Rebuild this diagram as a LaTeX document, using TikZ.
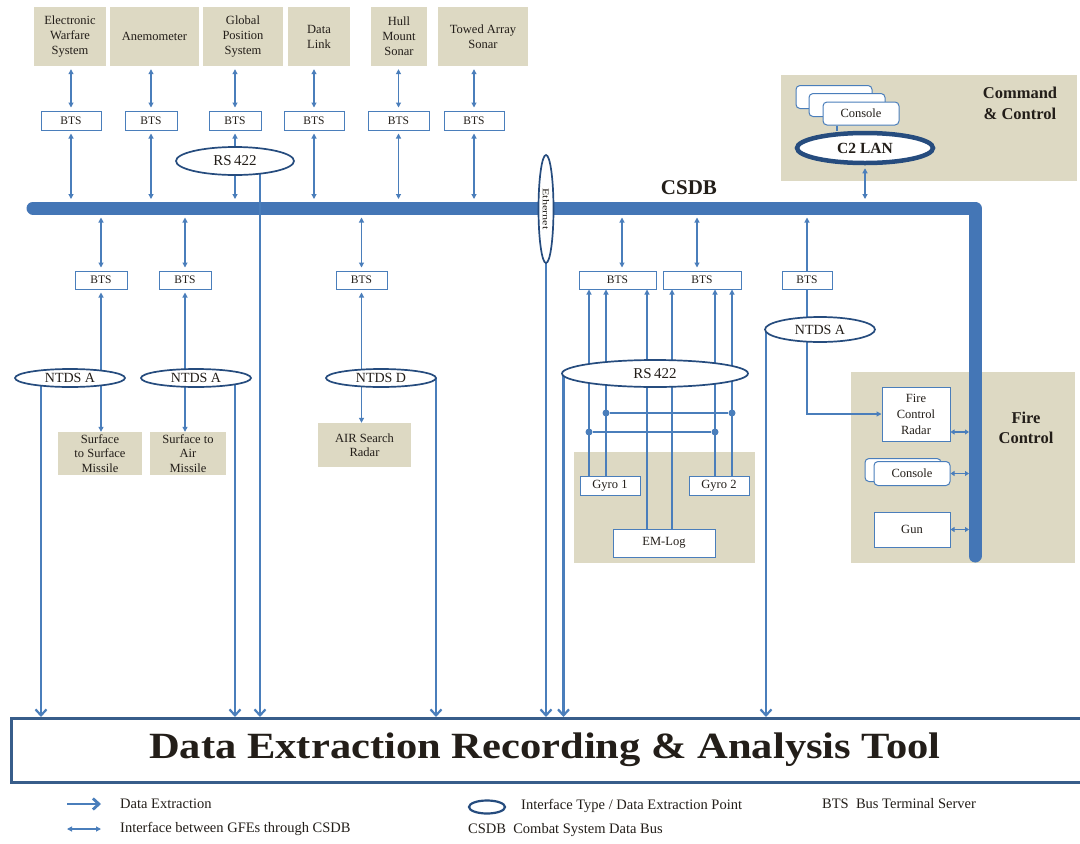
\documentclass[tikz,border=0pt]{standalone}
\usepackage{fontspec}
\setmainfont{Liberation Serif}
\usetikzlibrary{arrows.meta,shapes.geometric}
\definecolor{lnblue}{RGB}{74,126,187}
\definecolor{busblue}{RGB}{68,118,182}
\definecolor{navy}{RGB}{38,76,126}
\definecolor{tan}{RGB}{221,217,195}
\definecolor{ink}{RGB}{35,30,25}
\definecolor{deratline}{RGB}{56,93,138}
\pgfdeclarelayer{back}
\pgfdeclarelayer{wires}
\pgfsetlayers{back,wires,main}
\tikzset{
  gfe/.style={fill=tan, draw=none, inner sep=0pt, align=center, text=ink,
    font=\fontsize{12.5}{15}\selectfont},
  bts/.style={draw=lnblue, line width=1pt, fill=white, inner sep=0pt,
    minimum height=19pt, text=ink, font=\fontsize{11.5}{12}\selectfont},
  port/.style={ellipse, draw=navy, line width=1.7pt, fill=white, inner sep=0pt,
    text=ink, font=\fontsize{14}{16}\selectfont},
  unitbox/.style={draw=lnblue, line width=1pt, fill=white, inner sep=0pt,
    align=center, text=ink, font=\fontsize{12.5}{14}\selectfont},
  console/.style={unitbox, rounded corners=4pt, minimum width=76pt, minimum height=23pt},
  region/.style={fill=tan, draw=none},
  heading/.style={font=\bfseries\fontsize{16.5}{20.5}\selectfont, text=ink, align=center},
  plain/.style={text=ink, inner sep=0pt, font=\fontsize{14.5}{16}\selectfont},
  tri/.tip={Triangle[length=5pt,width=5pt]},
  wire/.style={draw=lnblue, line width=1.1pt},
  link/.style={wire, tri-tri, shorten <=3pt, shorten >=3pt},
  shortlink/.style={wire, {Triangle[length=4pt,width=5pt]}-{Triangle[length=4pt,width=5pt]}},
  feed/.style={wire, -tri},
  ext/.style={draw=lnblue, line width=2.2pt, -{Straight Barb[length=6pt,width=11pt]}},
  bus/.style={draw=busblue, line width=13pt, line cap=round, line join=round},
  joint/.style={circle, fill=lnblue, inner sep=0pt, minimum size=7pt},
}
\begin{document}
\begin{tikzpicture}[x=1pt,y=-1pt]
\useasboundingbox (0,0) rectangle (1080,844);

% page and shaded groups
\begin{pgfonlayer}{back}
  \fill[white] (0,0) rectangle (1080,844);
  \fill[region] (781,75) rectangle (1077,181);
  \fill[region] (574,452) rectangle (755,563);
  \fill[region] (851,372) rectangle (1075,563);
\end{pgfonlayer}

% equipment above the bus
\node[gfe, minimum width=72pt, minimum height=59pt] (ew)    at (70,36.5)  {Electronic\\Warfare\\System};
\node[gfe, minimum width=89pt, minimum height=59pt] (anem)  at (154.5,36.5) {Anemometer};
\node[gfe, minimum width=80pt, minimum height=59pt] (gps)   at (243,36.5) {Global\\Position\\System};
\node[gfe, minimum width=62pt, minimum height=59pt] (dlink) at (319,36.5) {Data\\Link};
\node[gfe, minimum width=56pt, minimum height=59pt] (hull)  at (399,36.5) {Hull\\Mount\\Sonar};
\node[gfe, minimum width=90pt, minimum height=59pt] (towed) at (483,36.5) {Towed Array\\Sonar};

% bus terminal servers, upper row
\node[bts, minimum width=60pt] (bew)   at (71,120.5)    {BTS};
\node[bts, minimum width=52pt] (banem) at (151,120.5)   {BTS};
\node[bts, minimum width=52pt] (bgps)  at (235,120.5)   {BTS};
\node[bts, minimum width=60pt] (bdl)   at (314,120.5)   {BTS};
\node[bts, minimum width=61pt] (bhull) at (398.5,120.5) {BTS};
\node[bts, minimum width=60pt] (btow)  at (474,120.5)   {BTS};

% bus terminal servers, lower row
\node[bts, minimum width=52pt, minimum height=18pt] (bssm)  at (101,280)   {BTS};
\node[bts, minimum width=52pt, minimum height=18pt] (bsam)  at (185,280)   {BTS};
\node[bts, minimum width=51pt, minimum height=18pt] (bair)  at (361.5,280) {BTS};
\node[bts, minimum width=77pt, minimum height=18pt] (bnav1) at (617.5,280) {BTS};
\node[bts, minimum width=78pt, minimum height=18pt] (bnav2) at (702,280)   {BTS};
\node[bts, minimum width=50pt, minimum height=18pt] (bfc)   at (807,280)   {BTS};

% interface points
\node[port, minimum width=118pt, minimum height=28pt, font=\fontsize{15}{17}\selectfont] (rsTop) at (235,161) {RS\,422};
\node[port, minimum width=15pt, minimum height=108pt] (eth) at (546,209)
  {\rotatebox{-90}{\fontsize{9}{10}\selectfont\scalebox{1.35}[1]{Ethernet}}};
\node[port, minimum width=110pt, minimum height=18pt] (ntA1) at (70,378)    {NTDS A};
\node[port, minimum width=110pt, minimum height=18pt] (ntA2) at (196,378)   {NTDS A};
\node[port, minimum width=110pt, minimum height=18pt] (ntD)  at (381,378)   {NTDS D};
\node[port, minimum width=110pt, minimum height=25pt] (ntA3) at (820,329.5) {NTDS A};
\node[port, minimum width=186pt, minimum height=27pt, font=\fontsize{15}{17}\selectfont] (rsNav) at (655,373.5) {RS\,422};

% weapons and sensors below the bus
\node[gfe, minimum width=84pt, minimum height=43pt, font=\fontsize{12.5}{14.5}\selectfont] (ssm) at (100,453.5) {Surface\\to Surface\\Missile};
\node[gfe, minimum width=76pt, minimum height=43pt, font=\fontsize{12.5}{14.5}\selectfont] (sam) at (188,453.5) {Surface to\\Air\\Missile};
\node[gfe, minimum width=93pt, minimum height=44pt, font=\fontsize{12.5}{14.5}\selectfont] (air) at (364.5,445) {AIR Search\\Radar};

% navigation sensors
\node[unitbox, minimum width=60pt, minimum height=19pt] (gyro1) at (610,485.5) {Gyro 1};
\node[unitbox, minimum width=60pt, minimum height=19pt] (gyro2) at (719,485.5) {Gyro 2};
\node[unitbox, minimum width=102pt, minimum height=28pt] (emlog) at (664,543) {EM-Log};
\node[joint] (j1) at (606,413) {};
\node[joint] (j2) at (732,413) {};
\node[joint] (j3) at (589,432) {};
\node[joint] (j4) at (715,432) {};

% fire control group
\node[unitbox, minimum width=68pt, minimum height=54pt, font=\fontsize{12.5}{16}\selectfont] (radar) at (916,414) {Fire\\Control\\Radar};
\node[console] (fccon2) at (903,470) {};
\node[console, minimum height=24pt] (fccon1) at (912,473.5) {Console};
\node[unitbox, minimum width=76pt, minimum height=35pt] (gun) at (912,529.5) {Gun};
\node[heading] (fclabel) at (1026,428) {Fire\\Control};

% command and control group: stacked consoles on the C2 LAN
\node[console] (cc3) at (834,97) {};
\node[console] (cc2) at (847,105) {};
\node[console] (cc1) at (861,113.5) {Console};
\node[port, line width=4.5pt, minimum width=136pt, minimum height=30pt,
  font=\bfseries\fontsize{15.5}{18}\selectfont] (c2) at (865,148) {C2 LAN};
\node[heading] (cclabel) at (1020,103.5) {Command\\\& Control};

\node[text=ink, font=\bfseries\fontsize{21}{24}\selectfont] (csdbl) at (689,188) {CSDB};

% recording tool
\node[draw=deratline, line width=2.5pt, fill=white, inner sep=0pt, anchor=north west,
  minimum width=1072pt, minimum height=64pt] (derat) at (10,717) {};
\node[text=ink, font=\bfseries\fontsize{37}{40}\selectfont] (deratl) at (545,750)
  {\scalebox{1.15}[1]{Data Extraction Recording \& Analysis Tool}};

% legend
\coordinate (lgA1) at (67,804);  \coordinate (lgA2) at (101,804);
\coordinate (lgB1) at (67,829);  \coordinate (lgB2) at (101,829);
\node[plain, anchor=west] (lgt1) at (120,804) {Data Extraction};
\node[plain, anchor=west] (lgt2) at (120,829) {Interface between GFEs through CSDB};
\node[port, line width=2.2pt, minimum width=36pt, minimum height=13pt] (lgE) at (487,807) {};
\node[plain, anchor=west] (lgt3) at (521,806) {Interface Type / Data Extraction Point};
\node[plain, anchor=west] (lgt4) at (468,830) {CSDB\enspace Combat System Data Bus};
\node[plain, anchor=west] (lgt5) at (822,804) {BTS\enspace Bus Terminal Server};

\begin{pgfonlayer}{wires}
  % combat system data bus
  \coordinate (busW) at (33,208);
  \coordinate (busE) at (975,208);
  \coordinate (busS) at (975,556);
  \coordinate (bustop) at (0,202);
  \coordinate (busbot) at (0,214.5);
  \coordinate (fcbus) at (969,0);
  \draw[bus] (busW) -- (busE) -- (busS);

  % upper equipment to bus
  \foreach \b/\s in {bew/ew, banem/anem, bgps/gps, bdl/dlink, bhull/hull, btow/towed} {
    \draw[link] (\b.north) -- (\b.north |- \s.south);
    \draw[link] (\b.south) -- (\b.south |- bustop);
  }
  % lower equipment to bus
  \foreach \b/\s in {bssm/ssm, bsam/sam, bair/air} {
    \draw[link] (\b.north |- busbot) -- (\b.north);
    \draw[link, shorten >=0pt] (\b.south) -- (\b.south |- \s.north);
  }
  \coordinate (n1up) at ([xshift=4.5pt]bnav1.north);
  \coordinate (n2up) at ([xshift=-5pt]bnav2.north);
  \draw[link] (n1up |- busbot) -- (n1up);
  \draw[link] (n2up |- busbot) -- (n2up);
  \draw[feed, shorten >=3pt] (bfc.north) -- (bfc.north |- busbot);
  \draw[feed] (bfc.south) |- (radar.west);

  % navigation sensor feeds
  \foreach \x/\f/\t in {589/gyro1/bnav1, 606/gyro1/bnav1, 647/emlog/bnav1,
                        672/emlog/bnav2, 715/gyro2/bnav2, 732/gyro2/bnav2}
    \draw[feed] (\x,0 |- \f.north) -- (\x,0 |- \t.south);
  \draw[wire] (j1) -- (j2);
  \draw[wire] (j3) -- (j4);

  % fire control units on the bus
  \draw[shortlink] (radar.east |- 0,432) -- (fcbus |- 0,432);
  \draw[shortlink] (fccon1.east) -- (fcbus |- fccon1.east);
  \draw[shortlink] (gun.east) -- (fcbus |- gun.east);

  % command and control
  \draw[link] (c2.south) -- (c2.south |- bustop);
  \draw[wire] (837,0 |- cc1.south) -- (837,0 |- c2.north);

  % data extraction lines
  \draw[ext] (41,0 |- ntA1.center)    -- (41,0 |- derat.north);
  \draw[ext] (235,0 |- ntA2.center)   -- (235,0 |- derat.north);
  \draw[ext] (260,0 |- rsTop.center)  -- (260,0 |- derat.north);
  \draw[ext] (436,0 |- ntD.center)    -- (436,0 |- derat.north);
  \draw[ext] (eth.center)             -- (eth.center |- derat.north);
  \draw[ext] (563.5,0 |- rsNav.center) -- (563.5,0 |- derat.north);
  \draw[ext] (766,0 |- ntA3.center)   -- (766,0 |- derat.north);

  % legend symbols
  \draw[ext, line width=2.8pt] (lgA1) -- (lgA2);
  \draw[wire, tri-tri] (lgB1) -- (lgB2);
\end{pgfonlayer}
\end{tikzpicture}
\end{document}
